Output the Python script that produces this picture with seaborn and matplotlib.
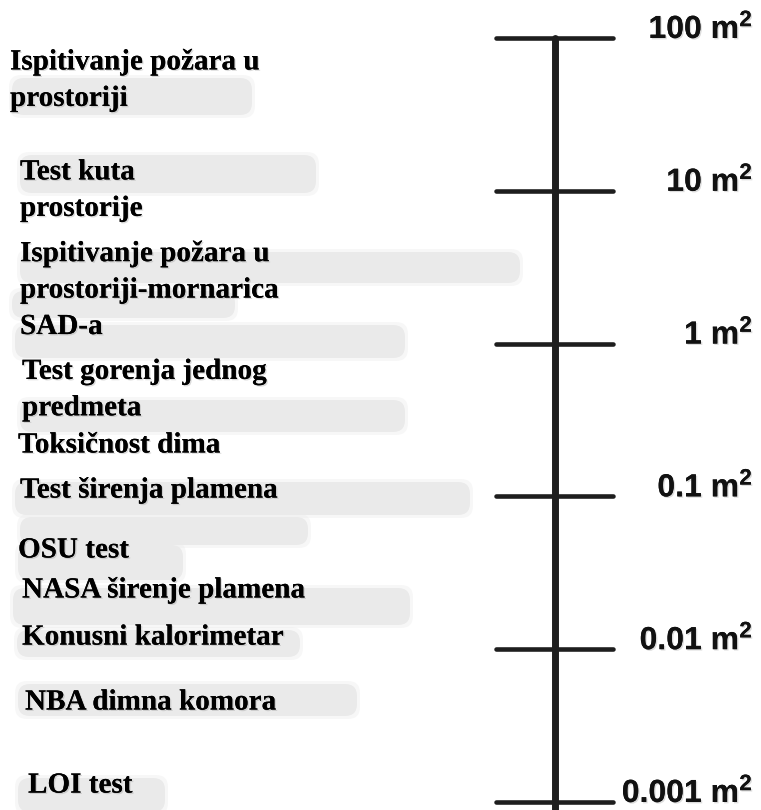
import numpy as np
import pandas as pd
import matplotlib
matplotlib.use("Agg")
import matplotlib.pyplot as plt
import matplotlib.patheffects as pe
from matplotlib.patches import FancyBboxPatch
from matplotlib.transforms import IdentityTransform
import seaborn as sns

# %% data
tick_values = [100, 10, 1, 0.1, 0.01, 0.001]
tick_labels = ["100 m$^2$", "10 m$^2$", "1 m$^2$", "0.1 m$^2$", "0.01 m$^2$", "0.001 m$^2$"]

test_names = [
    "Ispitivanje požara u\nprostoriji",
    "Test kuta\nprostorije",
    "Ispitivanje požara u\nprostoriji-mornarica\nSAD-a",
    "Test gorenja jednog\npredmeta",
    "Toksičnost dima",
    "Test širenja plamena",
    "OSU test",
    "NASA širenje plamena",
    "Konusni kalorimetar",
    "NBA dimna komora",
    "LOI test",
]
# approximate sample area (m2) each label sits at
test_area = [53, 10.1, 2.24, 0.50, 0.217, 0.110, 0.0446, 0.0244, 0.0120, 0.00451, 0.00129]

# %% layout
W, H = 761, 810
top_px, bottom_px = 38, 802
axis_x = 555
tick_x0, tick_x1 = 496, 613
label_x = [10, 20, 20, 22, 18, 20, 18, 22, 22, 25, 28]

# grey smudges behind the labels (left, top, right, bottom) in pixels
smudges = [
    (12, 78, 252, 115), (20, 155, 316, 193), (20, 252, 520, 283),
    (12, 291, 235, 318), (15, 325, 405, 358), (20, 400, 405, 432),
    (15, 482, 470, 515), (20, 517, 308, 545), (18, 545, 183, 580),
    (13, 588, 410, 625), (17, 630, 300, 657), (18, 684, 357, 716),
    (18, 778, 165, 812),
]

sns.set_theme(style="white")
plt.rcParams["mathtext.fontset"] = "custom"
plt.rcParams["mathtext.rm"] = "Liberation Sans:bold"
plt.rcParams["mathtext.it"] = "Liberation Sans:bold"
plt.rcParams["mathtext.bf"] = "Liberation Sans:bold"

fig = plt.figure(figsize=(W / 100, H / 100), dpi=100)
fig.patch.set_facecolor("white")
ax = fig.add_axes([0, 0, 1, 1])
ax.set_yscale("log")
per_px = (np.log10(tick_values[0]) - np.log10(tick_values[-1])) / (bottom_px - top_px)
ax.set_ylim(10 ** (np.log10(tick_values[-1]) - (H - bottom_px) * per_px),
            10 ** (np.log10(tick_values[0]) + top_px * per_px))
ax.set_xlim(0, W)
ax.axis("off")

for x0, y0, x1, y1 in smudges:
    for grow, alpha in [(3, 0.35), (0, 1.0)]:
        fig.add_artist(FancyBboxPatch(
            (x0 - grow, H - y1 - grow), x1 - x0 + 2 * grow, y1 - y0 + 2 * grow,
            boxstyle="round,pad=0,rounding_size=12",
            transform=IdentityTransform(), facecolor="#eaeaea",
            edgecolor="none", alpha=alpha, zorder=0))

# scale spine
spine = pd.DataFrame({"x": [axis_x, axis_x], "area": [tick_values[0], 1e-4]})
sns.lineplot(data=spine, x="x", y="area", sort=False, estimator=None,
             color="#1e1e1e", lw=5, ax=ax, zorder=3)

# tick bars
ticks = pd.DataFrame({
    "x": [tick_x0, tick_x1] * len(tick_values),
    "area": np.repeat(tick_values, 2),
})
sns.lineplot(data=ticks, x="x", y="area", units="area", estimator=None,
             color="#1e1e1e", lw=3.3, ax=ax, zorder=3)

shadow = [pe.withSimplePatchShadow(offset=(1, -1), shadow_rgbFace="#777777", alpha=0.25),
          pe.Normal()]

for v, lab in zip(tick_values, tick_labels):
    ax.annotate(lab, xy=(753, v), xytext=(0, 0), textcoords="offset points",
                ha="right", va="baseline", fontsize=23, fontweight="bold",
                family="Liberation Sans", color="#111111", path_effects=shadow, zorder=4)

for x, v, name in zip(label_x, test_area, test_names):
    ax.text(x, v, name, ha="left", va="center", fontsize=21, fontweight="bold",
            family="Liberation Serif", color="#000000", linespacing=1.45,
            path_effects=shadow, zorder=4)

fig.savefig("out.png", dpi=100, facecolor="white")
